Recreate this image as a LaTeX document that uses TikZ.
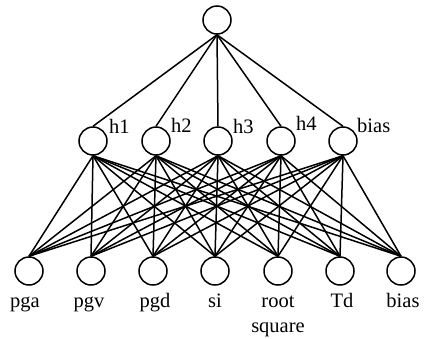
\documentclass[tikz,border=0pt]{standalone}
\usepackage{fontspec}
\setmainfont{Liberation Serif}
\begin{document}
\begin{tikzpicture}[x=1pt,y=-1pt,
  neuron/.style={draw,line width=1.5pt,circle,minimum size=28pt,inner sep=0pt},
  conn/.style={line width=1.5pt},
  lbl/.style={font=\fontsize{20.5}{25}\selectfont,inner sep=0pt,anchor=base}]
\useasboundingbox (0,0) rectangle (428,338);
\node[neuron] (o) at (217,20) {};
\foreach \n/\x in {h1/93,h2/156,h3/218,h4/281,hb/343}
  \node[neuron] (\n) at (\x,141) {};
\foreach \n/\x in {i1/29,i2/91,i3/153,i4/215,i5/278,i6/340,i7/401}
  \node[neuron] (\n) at (\x,271) {};
\foreach \n in {h1,h2,h3,h4,hb}
  \draw[conn] (o.south) -- (\n.north);
\foreach \h in {h1,h2,h3,h4,hb}
  \foreach \i in {i1,i2,i3,i4,i5,i6,i7}
    \draw[conn] (\h.south) -- (\i.north);
\node[lbl,anchor=base west] (lh1) at (109,133) {h1};
\node[lbl,anchor=base west] (lh2) at (171,132) {h2};
\node[lbl,anchor=base west] (lh3) at (233,133) {h3};
\node[lbl,anchor=base west] (lh4) at (296,130) {h4};
\node[lbl,anchor=base west] (lhb) at (357,132) {bias};
\node[lbl] (l1) at (25,307) {pga};
\node[lbl] (l2) at (89,307) {pgv};
\node[lbl] (l3) at (155,307) {pgd};
\node[lbl] (l4) at (215,307) {si};
\node[lbl,align=center] (l5) at (278,332) {root\\square};
\node[lbl] (l6) at (342,307) {Td};
\node[lbl] (l7) at (403,307) {bias};
\end{tikzpicture}
\end{document}
